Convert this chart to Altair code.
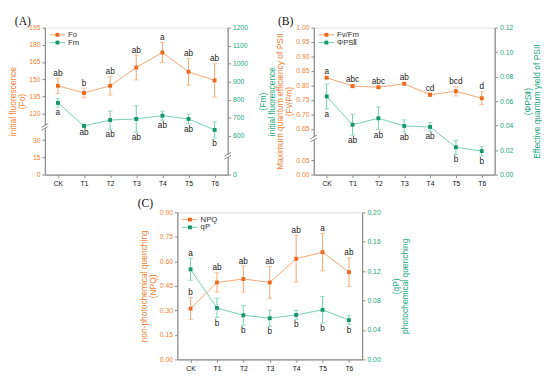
import altair as alt
import pandas as pd

cats = ["CK", "T1", "T2", "T3", "T4", "T5", "T6"]

# Panel A
fo = [144.3, 138.1, 144.3, 160.2, 173.3, 156.5, 149.0]
fo_err = [6.7, 4.2, 8.0, 10.8, 8.8, 11.7, 14.5]
fo_let = ["ab", "b", "ab", "ab", "a", "ab", "ab"]
fo_pos = ["above"] * 7
fm = [782, 654, 687, 693, 711, 693, 632]
fm_err = [24, 6, 50, 73, 25, 27, 45]
fm_let = ["a", "ab", "ab", "ab", "ab", "ab", "b"]
fm_pos = ["below"] * 7

# Panel B
fvfm = [0.827, 0.798, 0.794, 0.806, 0.768, 0.780, 0.756]
fvfm_err = [0.004, 0.006, 0.003, 0.004, 0.006, 0.016, 0.022]
fvfm_let = ["a", "abc", "abc", "ab", "cd", "bcd", "d"]
fvfm_pos = ["above"] * 7
phi = [0.0638, 0.0407, 0.0460, 0.0397, 0.0389, 0.0223, 0.0192]
phi_err = [0.0102, 0.0085, 0.0092, 0.0050, 0.0035, 0.0058, 0.0040]
phi_let = ["a", "ab", "ab", "ab", "ab", "b", "b"]
phi_pos = ["below"] * 7

# Panel C
npq = [0.311, 0.471, 0.492, 0.471, 0.616, 0.656, 0.534]
npq_err = [0.066, 0.059, 0.080, 0.097, 0.142, 0.114, 0.088]
npq_let = ["b", "ab", "ab", "ab", "ab", "a", "ab"]
npq_pos = ["above"] * 7
qp = [0.1225, 0.0700, 0.0600, 0.0560, 0.0604, 0.0674, 0.0534]
qp_err = [0.015, 0.013, 0.0135, 0.011, 0.006, 0.018, 0.006]
qp_let = ["a", "b", "b", "b", "b", "b", "b"]
qp_pos = ["above"] + ["below"] * 6

# axis tick labels
a_left_ticks = [0, 15, 30, 120, 135, 150, 165, 180, 195]
a_right_ticks = [0, 600, 700, 800, 900, 1000, 1100, 1200]
b_left_ticks = [0.00, 0.05, 0.65, 0.70, 0.75, 0.80, 0.85, 0.90, 0.95, 1.00]
b_right_ticks = [0.00, 0.02, 0.04, 0.06, 0.08, 0.10, 0.12]
c_left_ticks = [0.00, 0.15, 0.30, 0.45, 0.60, 0.75, 0.90]
c_right_ticks = [0.00, 0.04, 0.08, 0.12, 0.16, 0.20]

ORANGE_PT = "#EC6A1F"
ORANGE_LN = "#F5A572"
ORANGE_TX = "#F07F33"
GREEN_PT = "#17966D"
GREEN_LN = "#74CDB2"
GREEN_TX = "#22A57C"
GRAY = "#8a8a8a"
FONT = "Liberation Sans"
W_A, W_B, W_C, H = 189, 187, 191, 152
NOBREAK = 1e9

X_SCALE = alt.Scale(type="point", padding=0.5, domain=cats)
X_AXIS = alt.Axis(title=None, labelAngle=0, labelColor="#111111", labelFontSize=7,
                  tickColor=GRAY, domainColor=GRAY, tickSize=3, labelPadding=2, grid=False)

one = pd.DataFrame({"k": [0]})


def series(vals, errs, lets, pos, ticks, brk_lo, off, fmt, side, title, c_pt, c_ln, c_tx):
    df = pd.DataFrame({"cat": cats, "v": vals, "e": errs, "lab": lets, "pos": pos})
    disp_ticks = [t if t <= brk_lo else t - off for t in ticks]
    dmax = max(disp_ticks)
    scale = alt.Scale(domain=[0, dmax], nice=False, zero=False)
    axis = alt.Axis(
        orient=side, values=disp_ticks,
        labelExpr=f"format(datum.value > {brk_lo} ? datum.value + {off} : datum.value, '{fmt}')",
        title=title, titleColor=c_tx, labelColor=c_tx, grid=False,
        titleAngle=270, titleBaseline="bottom" if side == "left" else "top",
        titleFontSize=8.7, titleFontWeight="normal", titleLineHeight=9.5,
        titlePadding=2, labelFontSize=7, labelPadding=2, tickSize=3,
        tickColor=GRAY, domainColor=GRAY,
    )
    xenc = alt.X("cat:N", scale=X_SCALE, sort=cats, axis=X_AXIS)

    def y(f):
        return alt.Y(f"{f}:Q", scale=scale, axis=axis)

    base = alt.Chart(df).transform_calculate(
        d=f"datum.v > {brk_lo} ? datum.v - {off} : datum.v",
        dt=f"(datum.v + datum.e) > {brk_lo} ? (datum.v + datum.e) - {off} : (datum.v + datum.e)",
        db=f"(datum.v - datum.e) > {brk_lo} ? (datum.v - datum.e) - {off} : (datum.v - datum.e)",
    )
    line = base.mark_line(color=c_ln, strokeWidth=1).encode(x=xenc, y=y("d"))
    err = base.mark_rule(color=c_ln, strokeWidth=1).encode(x=xenc, y=y("dt"), y2="db:Q")
    cap_t = base.mark_tick(color=c_ln, size=5, thickness=1, orient="horizontal").encode(x=xenc, y=y("dt"))
    cap_b = base.mark_tick(color=c_ln, size=5, thickness=1, orient="horizontal").encode(x=xenc, y=y("db"))
    pts = base.mark_square(color=c_pt, size=16, opacity=1).encode(x=xenc, y=y("d"))
    txt_a = base.transform_filter("datum.pos == 'above'").mark_text(
        dy=-2.5, baseline="alphabetic", fontSize=8.5, color="#222222"
    ).encode(x=xenc, y=y("dt"), text="lab:N")
    txt_b = base.transform_filter("datum.pos == 'below'").mark_text(
        dy=8.3, baseline="alphabetic", fontSize=8.5, color="#222222"
    ).encode(x=xenc, y=y("db"), text="lab:N")
    layer = alt.layer(line, err, cap_t, cap_b, pts, txt_a, txt_b)
    return layer, dmax


def break_marks(x0, y0):
    rect = alt.Chart(one).mark_rect(color="white").encode(
        x=alt.value(x0 - 2), x2=alt.value(x0 + 2), y=alt.value(y0 - 1), y2=alt.value(y0 + 2))
    l1 = alt.Chart(one).mark_rule(color=GRAY, strokeWidth=1).encode(
        x=alt.value(x0 - 3.5), x2=alt.value(x0 + 3.5), y=alt.value(y0 + 1), y2=alt.value(y0 - 3))
    l2 = alt.Chart(one).mark_rule(color=GRAY, strokeWidth=1).encode(
        x=alt.value(x0 - 3.5), x2=alt.value(x0 + 3.5), y=alt.value(y0 + 4), y2=alt.value(y0))
    return [rect, l1, l2]


def legend_item(y0, label, c_pt, c_ln):
    ln = alt.Chart(one).mark_rule(color=c_ln, strokeWidth=1).encode(
        x=alt.value(5), x2=alt.value(21), y=alt.value(y0))
    pt = alt.Chart(one).mark_square(color=c_pt, size=16, opacity=1).encode(
        x=alt.value(13), y=alt.value(y0))
    tx = alt.Chart(one).mark_text(text=label, align="left", baseline="middle", fontSize=8,
                                  color="#333333").encode(x=alt.value(24), y=alt.value(y0))
    return [ln, pt, tx]


def tag(label, x0, y0):
    return alt.Chart(one).mark_text(text=label, align="left", baseline="middle", fontSize=12,
                                    font="Liberation Serif", color="#111111").encode(
        x=alt.value(x0), y=alt.value(y0))


def brk_px(brk_lo, dmax):
    return H * (1 - brk_lo / dmax)


# ---- Panel A
A_L_BRK, A_L_OFF = 42, 67
A_R_BRK, A_R_OFF = 107, 384
a_left, a_ldmax = series(fo, fo_err, fo_let, fo_pos, a_left_ticks, A_L_BRK, A_L_OFF, "d", "left",
                         ["initial fluorescence", "(Fo)"], ORANGE_PT, ORANGE_LN, ORANGE_TX)
a_right, a_rdmax = series(fm, fm_err, fm_let, fm_pos, a_right_ticks, A_R_BRK, A_R_OFF, "d", "right",
                          ["(Fm)", "initial fluorescence"], GREEN_PT, GREEN_LN, GREEN_TX)
panel_a = alt.layer(
    a_left, a_right,
    *break_marks(0, brk_px(A_L_BRK, a_ldmax)),
    *break_marks(W_A, brk_px(A_R_BRK, a_rdmax)),
    *legend_item(7.5, "Fo", ORANGE_PT, ORANGE_LN),
    *legend_item(15.5, "Fm", GREEN_PT, GREEN_LN),
    tag("(A)", -31, -7),
).resolve_scale(y="independent").properties(width=W_A, height=H)

# ---- Panel B
B_L_BRK, B_L_OFF = 0.127, 0.4922
b_left, b_ldmax = series(fvfm, fvfm_err, fvfm_let, fvfm_pos, b_left_ticks, B_L_BRK, B_L_OFF, ".2f", "left",
                         ["Maximum quantum efficiency of PSII", "(Fv/Fm)"], ORANGE_PT, ORANGE_LN, ORANGE_TX)
b_right, _ = series(phi, phi_err, phi_let, phi_pos, b_right_ticks, NOBREAK, 0, ".2f", "right",
                    ["(ΦPSⅡ)", "Effective quantum yield of PSII"], GREEN_PT, GREEN_LN, GREEN_TX)
panel_b = alt.layer(
    b_left, b_right,
    *break_marks(0, brk_px(B_L_BRK, b_ldmax)),
    *legend_item(7.5, "Fv/Fm", ORANGE_PT, ORANGE_LN),
    *legend_item(15.5, "ΦPSⅡ", GREEN_PT, GREEN_LN),
    tag("(B)", -37, -7),
).resolve_scale(y="independent").properties(width=W_B, height=H)

# ---- Panel C
c_left, _ = series(npq, npq_err, npq_let, npq_pos, c_left_ticks, NOBREAK, 0, ".2f", "left",
                   ["non-photochemical quenching", "(NPQ)"], ORANGE_PT, ORANGE_LN, ORANGE_TX)
c_right, _ = series(qp, qp_err, qp_let, qp_pos, c_right_ticks, NOBREAK, 0, ".2f", "right",
                    ["(qP)", "photochemical quenching"], GREEN_PT, GREEN_LN, GREEN_TX)
panel_c = alt.layer(
    c_left, c_right,
    *legend_item(7.5, "NPQ", ORANGE_PT, ORANGE_LN),
    *legend_item(15.5, "qP", GREEN_PT, GREEN_LN),
    tag("(C)", -41, -10),
).resolve_scale(y="independent").properties(width=W_C, height=H)

top = alt.hconcat(panel_a, panel_b, spacing=89, bounds="flush")
chart = alt.vconcat(top, panel_c, spacing=9, center=True).properties(
    padding=0
).configure_view(stroke=GRAY, strokeWidth=1.2).configure(font=FONT).configure_axis(
    domainWidth=1.2, tickWidth=1, labelFont=FONT, titleFont=FONT
)

chart.save("out.html", embed_options={"renderer": "svg", "actions": False})
